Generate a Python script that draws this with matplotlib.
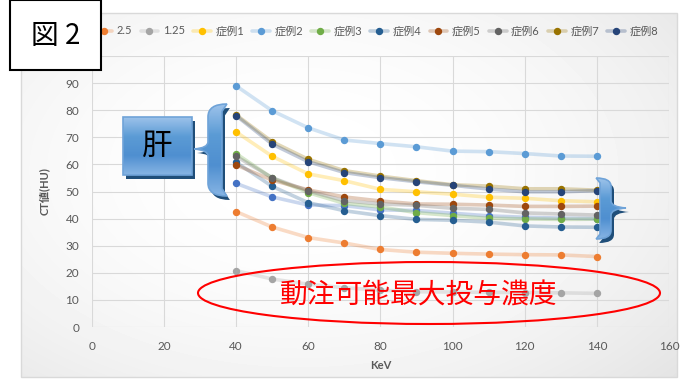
import numpy as np
import matplotlib
matplotlib.use("Agg")
import matplotlib.pyplot as plt
from matplotlib.patches import Rectangle, Ellipse, PathPatch
from matplotlib.path import Path
from matplotlib.colors import LinearSegmentedColormap, to_rgba

plt.rcParams["font.family"] = ["Lato", "Noto Sans CJK JP", "DejaVu Sans"]

# CT値 vs 仮想単色X線エネルギー
kev = [40, 50, 60, 70, 80, 90, 100, 110, 120, 130, 140]

conc_5 = [53, 48, 45, 44.8, 43.2, 43, 42, 41, 40.5, 40.2, 40]
conc_2_5 = [42.6, 36.9, 33, 31, 28.6, 27.6, 27.2, 26.9, 26.7, 26.6, 26]
conc_1_25 = [20.8, 17.7, 15.8, 14.5, 13.6, 13, 12.9, 12.8, 12.7, 12.6, 12.4]
case1 = [72, 63, 56.5, 54, 50.8, 49.9, 49, 47.9, 47.5, 46.6, 46.2]
case2 = [89, 79.8, 73.5, 69, 67.7, 66.5, 64.9, 64.7, 64, 63.1, 63]
case3 = [64, 55, 49.6, 45.6, 44.3, 42.2, 41.1, 40.1, 39.9, 39.7, 39.8]
case4 = [60.8, 51.9, 45.9, 42.9, 41.1, 39.7, 39.4, 38.7, 37.3, 36.9, 36.8]
case5 = [59.8, 54.2, 50.6, 48, 46.5, 45.4, 45.3, 45, 44.5, 44.5, 44.6]
case6 = [63, 55.1, 50.2, 46.6, 45.4, 44.9, 43.8, 43.4, 42.1, 41.7, 41.3]
case7 = [78.3, 68.4, 61.9, 57.7, 55.7, 54, 52.5, 52, 51, 51, 50.5]
case8 = [78, 67.5, 61, 57, 55.1, 53.6, 52.3, 50.9, 49.9, 49.9, 50.3]

# the "5" series sits under the figure-number box, so it stays out of the legend
series_names = ["_5", "2.5", "1.25", "症例1", "症例2", "症例3", "症例4",
                "症例5", "症例6", "症例7", "症例8"]
series_values = [conc_5, conc_2_5, conc_1_25, case1, case2, case3, case4,
                 case5, case6, case7, case8]
series_colors = ["#4472C4", "#ED7D31", "#A5A5A5", "#FFC000", "#5B9BD5",
                 "#70AD47", "#255E91", "#9E480E", "#636363", "#997300",
                 "#264478"]

W, H = 685, 383
fig = plt.figure(figsize=(W / 100, H / 100), dpi=100)

# chart area: soft radial shading inside a thin frame
bg = fig.add_axes([0, 0, 1, 1], zorder=0)
bg.axis("off")
yy, xx = np.mgrid[0:H, 0:W]
r = np.hypot((xx - 300) / 420, (yy - 170) / 260)
shade = 1 - 0.075 * np.clip(r, 0, 1.3) ** 2
frame = Rectangle((21, 13), 656, 364, fill=False, ec="#d9d9d9", lw=1)
bg.add_patch(frame)
im = bg.imshow(shade, cmap="gray", vmin=0, vmax=1, extent=(0, W, H, 0),
               aspect="auto", interpolation="bilinear")
im.set_clip_path(frame)
bg.set_xlim(0, W)
bg.set_ylim(H, 0)

# plot area
ax = fig.add_axes([91.7 / W, 1 - 327 / H, 577.3 / W, 271 / H], zorder=1)
ax.patch.set_alpha(0)

for name, vals, c in zip(series_names, series_values, series_colors):
    ax.plot(kev, vals, color=to_rgba(c, 0.28), lw=2.6, marker="o", ms=4.3,
            mfc=c, mec=c, label=name, solid_capstyle="round")

ax.set_xlim(0, 160)
ax.set_ylim(0, 100)
ax.set_xticks(range(0, 161, 20))
ax.set_yticks(range(0, 101, 10))
ax.grid(True, color="#d9d9d9", lw=0.8)
ax.set_axisbelow(True)
for s in ax.spines.values():
    s.set_visible(False)
ax.tick_params(length=0, labelsize=8.5, labelcolor="#595959")
ax.tick_params(axis="y", pad=9)
ax.tick_params(axis="x", pad=10)

ax.set_xlabel("KeV", fontsize=8, fontweight="bold", color="#595959")
ax.set_ylabel("CT値(HU)", fontsize=8, fontweight="bold", color="#595959")
ax.xaxis.set_label_coords(0.5, -0.12)
ax.yaxis.set_label_coords(-0.072, 0.5)

ax.legend(ncol=10, loc="center right", bbox_to_anchor=(658 / W, 1 - 31 / H),
          bbox_transform=fig.transFigure, frameon=False, fontsize=8,
          handlelength=1.6, handletextpad=0.4, columnspacing=0.74,
          labelcolor="#595959", borderaxespad=0, borderpad=0)

# annotations, drawn in pixel coordinates
ov = fig.add_axes([0, 0, 1, 1], zorder=2)
ov.axis("off")

blue_map = LinearSegmentedColormap.from_list(
    "blue", ["#9cc2ea", "#5b9bd5", "#4f8fd0", "#86b4e4"])


def gradient_patch(patch, shadow_dx=3, shadow_dy=4):
    verts = patch.get_path().vertices
    if isinstance(patch, Rectangle):
        verts = patch.get_patch_transform().transform(verts)
    x0, y0 = verts.min(axis=0)
    x1, y1 = verts.max(axis=0)
    shadow = PathPatch(Path(verts + [shadow_dx, shadow_dy],
                            patch.get_path().codes),
                       fc="#1f4e79", ec="none", zorder=3)
    ov.add_patch(shadow)
    ov.add_patch(patch)
    grad = np.linspace(0, 1, 64).reshape(-1, 1)
    g = ov.imshow(grad, cmap=blue_map, extent=(x0, x1, y1, y0),
                  aspect="auto", zorder=4, interpolation="bilinear")
    g.set_clip_path(patch)
    edge = PathPatch(Path(verts, patch.get_path().codes), fc="none",
                     ec="#6fa3d8", lw=1.2, zorder=5)
    ov.add_patch(edge)


def brace(xo, xi, xt, yt, yb, ym):
    curl = xi + 0.35 * (xi - xo)
    h = yb - yt
    verts = [(curl, yt), (xo, yt), (xo, yt + 0.14 * h),
             (xo, ym - 7),
             (xo, ym - 1), (xt, ym),
             (xo, ym + 1), (xo, ym + 7),
             (xo, yb - 0.14 * h),
             (xo, yb), (curl, yb),
             (xi, yb - 0.08 * h),
             (xi, yt + 0.08 * h),
             (curl, yt)]
    codes = [Path.MOVETO, Path.CURVE3, Path.CURVE3, Path.LINETO,
             Path.CURVE3, Path.CURVE3, Path.CURVE3, Path.CURVE3,
             Path.LINETO, Path.CURVE3, Path.CURVE3, Path.LINETO,
             Path.LINETO, Path.CLOSEPOLY]
    return PathPatch(Path(np.array(verts, float), codes), fc="none",
                     ec="none", zorder=4)


# 肝 label with its brace
liver_box = Rectangle((123, 117), 69, 58, fc="none", ec="none", zorder=4)
gradient_patch(liver_box)
ov.text(157.5, 146, "肝", fontsize=22, color="black", ha="center",
        va="center", family=["Noto Sans CJK JP"], zorder=6)
gradient_patch(brace(208, 222, 194, 104, 196, 149))
gradient_patch(brace(611, 600, 626, 178, 239, 208))

# 動注可能最大投与濃度
ov.add_patch(Ellipse((429, 293), 462, 62, fill=False, ec="red", lw=1.5,
                     zorder=6))
ov.text(419, 296, "動注可能最大投与濃度", fontsize=20, color="red",
        ha="center", va="center", family=["Noto Sans CJK JP"], zorder=6)

# figure number box
ov.add_patch(Rectangle((10, 0), 91, 70, fc="white", ec="black", lw=1.5,
                       zorder=7))
ov.text(55.5, 36, "図 2", fontsize=20, color="black", ha="center",
        va="center", family=["Noto Sans CJK JP"], zorder=8)

ov.set_xlim(0, W)
ov.set_ylim(H, 0)

fig.savefig("out.png", dpi=100)
